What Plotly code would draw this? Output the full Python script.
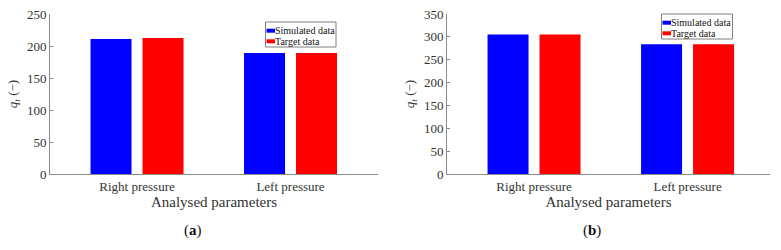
import plotly.graph_objects as go

# ---------------- data ----------------
categories = ["Right pressure", "Left pressure"]
series_names = ["Simulated data", "Target data"]
sim_a = [211, 189]
target_a = [212.5, 189]
sim_b = [305, 284]
target_b = [305, 284]
yticks_a = [0, 50, 100, 150, 200, 250]
yticks_b = [0, 50, 100, 150, 200, 250, 300, 350]
panel_labels = ["a", "b"]

# ---------------- style ----------------
W, H = 781, 250
SERIF = "Liberation Serif, Times New Roman, serif"
BLUE = "#0000FF"
RED = "#FF0000"
AXIS = "#8c8c8c"
TXT = "#333333"


def px_x(p):
    return p / W


def px_y(p):
    return 1 - p / H


fig = go.Figure()

fig.add_trace(go.Bar(x=categories, y=sim_a, name=series_names[0], marker_color=BLUE,
                     marker_line_width=0, xaxis="x", yaxis="y", showlegend=False))
fig.add_trace(go.Bar(x=categories, y=target_a, name=series_names[1], marker_color=RED,
                     marker_line_width=0, xaxis="x", yaxis="y", showlegend=False))
fig.add_trace(go.Bar(x=categories, y=sim_b, name=series_names[0], marker_color=BLUE,
                     marker_line_width=0, xaxis="x2", yaxis="y2", showlegend=False))
fig.add_trace(go.Bar(x=categories, y=target_b, name=series_names[1], marker_color=RED,
                     marker_line_width=0, xaxis="x2", yaxis="y2", showlegend=False))

ydom = [px_y(174), px_y(14)]

xcommon = dict(
    type="category", showline=True, linecolor=AXIS, linewidth=1, ticks="",
    showgrid=False, zeroline=False, automargin=False,
    tickfont=dict(family=SERIF, size=13, color=TXT),
    title=dict(text="Analysed parameters", font=dict(family=SERIF, size=15, color=TXT), standoff=1),
    fixedrange=True,
)
ycommon = dict(
    showline=True, linecolor=AXIS, linewidth=1, ticks="inside", ticklen=3, tickcolor=AXIS,
    showgrid=False, zeroline=False, automargin=False,
    tickfont=dict(family=SERIF, size=13, color=TXT),
    title=dict(text="<i>q</i><sub><i>t</i></sub> (\u2212)", font=dict(family=SERIF, size=13, color=TXT),
               standoff=6),
    fixedrange=True,
)

fig.update_layout(
    width=W, height=H,
    margin=dict(l=0, r=0, t=0, b=0, autoexpand=False),
    paper_bgcolor="white", plot_bgcolor="white",
    barmode="group", bargap=0.3225, bargroupgap=0.2115,
    showlegend=False,
    xaxis=dict(domain=[px_x(50), px_x(378)], range=[-0.567, 1.570], anchor="y", **xcommon),
    yaxis=dict(domain=ydom, range=[0, 250], tickvals=yticks_a, anchor="x", **ycommon),
    xaxis2=dict(domain=[px_x(447), px_x(770)], range=[-0.567, 1.537], anchor="y2", **xcommon),
    yaxis2=dict(domain=ydom, range=[0, 350], tickvals=yticks_b, anchor="x2", **ycommon),
)

# ---------------- custom legends ----------------
shapes = []
annotations = []
legend_boxes = [(265.5, 336, 22), (661.5, 732.5, 14)]
for (x0, x1, top) in legend_boxes:
    shapes.append(dict(type="rect", xref="paper", yref="paper",
                       x0=px_x(x0), x1=px_x(x1), y0=px_y(top + 25), y1=px_y(top),
                       line=dict(color="#7f7f7f", width=1), fillcolor="white", layer="above"))
    for i, (name, col) in enumerate(zip(series_names, [BLUE, RED])):
        cy = top + 8.7 + i * 10.6
        shapes.append(dict(type="rect", xref="paper", yref="paper",
                           x0=px_x(x0 + 1), x1=px_x(x0 + 9.5), y0=px_y(cy + 2), y1=px_y(cy - 2),
                           line=dict(width=0), fillcolor=col, layer="above"))
        annotations.append(dict(xref="paper", yref="paper", x=px_x(x0 + 8.5), y=px_y(cy),
                                xanchor="left", yanchor="middle", showarrow=False,
                                borderpad=0,
                                text=name, font=dict(family=SERIF, size=10, color="#111111")))

# panel captions
for lab, cx in zip(panel_labels, [193, 592]):
    annotations.append(dict(xref="paper", yref="paper", x=px_x(cx), y=px_y(230),
                            xanchor="center", yanchor="middle", showarrow=False,
                            text="(<b>%s</b>)" % lab,
                            font=dict(family=SERIF, size=15, color="#111111")))

fig.update_layout(shapes=shapes, annotations=annotations)

fig.write_html(
    "out.html",
    config={"displayModeBar": False, "staticPlot": True},
    post_script="document.body.style.margin='0';document.body.style.overflow='hidden';",
)
